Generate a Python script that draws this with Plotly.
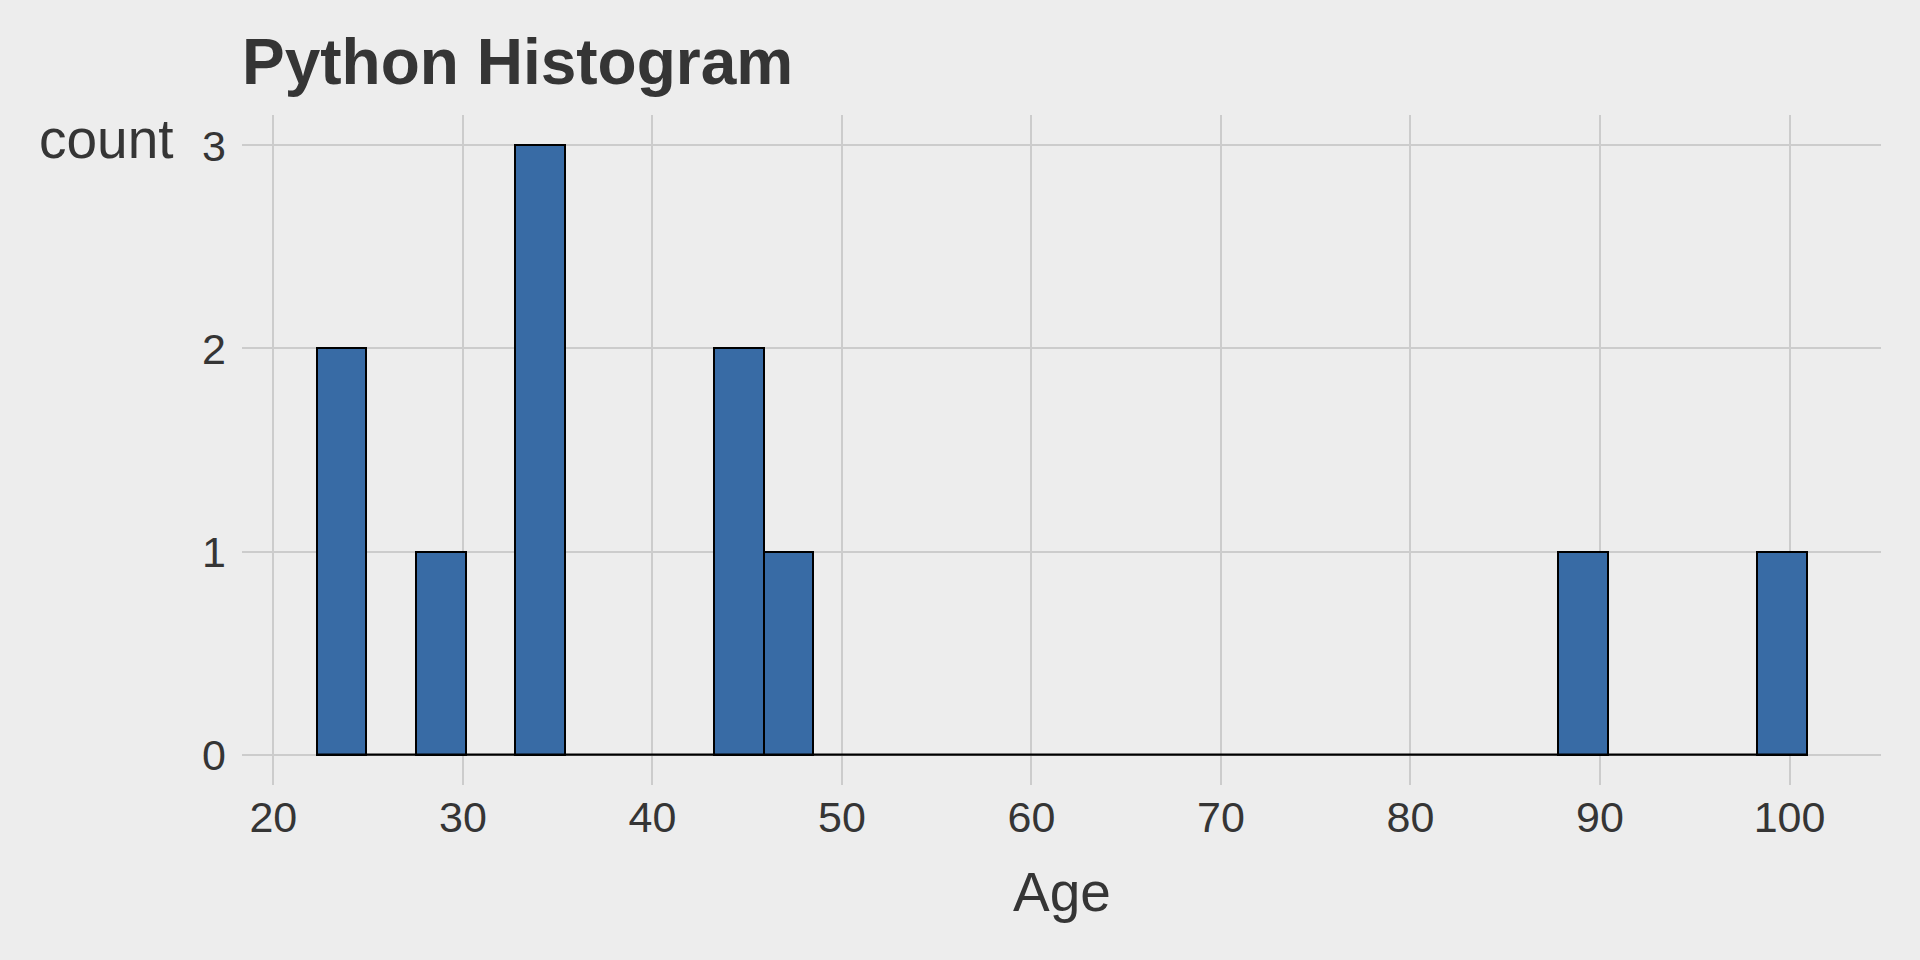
import numpy as np
import plotly.graph_objects as go

# Data (ages)
ages = [24, 24, 28, 33, 34, 35, 44, 45, 47, 89, 100]
n_bins = 30
x_ticks = [20, 30, 40, 50, 60, 70, 80, 90, 100]
y_ticks = [0, 1, 2, 3]
title_text = "Python Histogram"
x_label = "Age"
y_label = "count"

# ggplot2-style binning (bins=30, boundary = width/2)
lo, hi = min(ages), max(ages)
w = (hi - lo) / (n_bins - 1)
start = w / 2 + np.floor((lo - w / 2) / w) * w
edges = start + w * np.arange(n_bins + 1)
counts, _ = np.histogram(ages, bins=edges)
span = edges[-1] - edges[0]
xr = [edges[0] - 0.05 * span, edges[-1] + 0.05 * span]
ymax = counts.max()
yr = [-0.05 * ymax, ymax * 1.05]

BG = "#EDEDED"
GRID = "#CCCCCC"
TXT = "#353535"
FONT = "Liberation Sans"

fig = go.Figure()
fig.add_trace(go.Histogram(
    x=ages,
    xbins=dict(start=edges[0], end=edges[-1], size=w),
    marker=dict(color="#386BA5", line=dict(color="black", width=2)),
    showlegend=False,
))
# zero-height bins are outlined along the baseline, as in ggplot
fig.add_trace(go.Scatter(
    x=[edges[0], edges[-1]], y=[0, 0], mode="lines",
    line=dict(color="black", width=2.2), showlegend=False, hoverinfo="skip",
))

fig.update_layout(
    paper_bgcolor=BG,
    plot_bgcolor=BG,
    bargap=0,
    margin=dict(l=242, r=39, t=115, b=175),
    font=dict(family=FONT, color=TXT),
    title=dict(
        text="<b>" + title_text + "</b>",
        font=dict(family=FONT, size=64, color=TXT),
        xref="paper", x=0, xanchor="left",
        yref="container", y=1 - 62 / 960, yanchor="middle",
    ),
    xaxis=dict(
        range=xr, tickvals=x_ticks, showgrid=True, gridcolor=GRID, gridwidth=2,
        zeroline=False, showline=False, ticks="",
        tickfont=dict(family=FONT, size=43, color=TXT),
        ticklabelstandoff=3,
    ),
    yaxis=dict(
        range=yr, tickvals=y_ticks, showgrid=True, gridcolor=GRID, gridwidth=2,
        zeroline=False, showline=False, ticks="",
        tickfont=dict(family=FONT, size=43, color=TXT),
        ticklabelstandoff=15,
    ),
    annotations=[
        dict(text=y_label, xref="paper", yref="paper",
             x=(176 - 242) / 1639, y=(785 - 139) / 670,
             xanchor="right", yanchor="middle", showarrow=False,
             font=dict(family=FONT, size=55, color=TXT)),
        dict(text=x_label, xref="paper", yref="paper",
             x=0.5, y=(785 - 892) / 670,
             xanchor="center", yanchor="middle", showarrow=False,
             font=dict(family=FONT, size=55, color=TXT)),
    ],
)

post = (
    "document.documentElement.style.margin='0';"
    "document.body.style.margin='0';"
    "document.body.style.background='" + BG + "';"
    "document.documentElement.style.height='100%';"
    "document.body.style.height='100%';"
    "document.body.style.overflow='hidden';"
    "var gd=document.getElementById('{plot_id}');"
    "gd.style.width='100vw';gd.style.height='100vh';"
    "Plotly.Plots.resize(gd);"
)
fig.write_html("out.html", post_script=post, config={"displayModeBar": False})
